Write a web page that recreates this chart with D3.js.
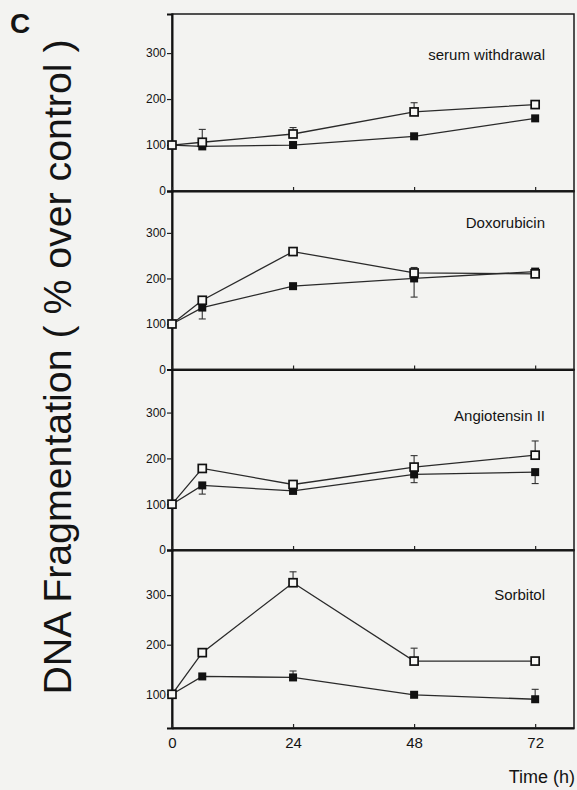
<!DOCTYPE html>
<html>
<head>
<meta charset="utf-8">
<script src="https://cdn.jsdelivr.net/npm/d3@7"></script>
<style>
  html, body { margin: 0; padding: 0; background: #f3f3f1; }
  svg { display: block; }
  text { font-family: "Liberation Sans", Arial, Helvetica, sans-serif; fill: #141414; }
</style>
</head>
<body>
<svg id="chart" width="577" height="790"></svg>
<script>
// Sampling times (h)
const times = [0, 6, 24, 48, 72];
const xTicks = [0, 24, 48, 72];
const yTicks = [0, 100, 200, 300];

// One panel per stimulus
const panelNames = ["serum withdrawal", "Doxorubicin", "Angiotensin II", "Sorbitol"];

// Open squares series (mean) and its error (drawn upward)
const openValues = [
  [100, 106, 124, 172, 188],
  [100, 152, 259, 212, 210],
  [100, 178, 143, 181, 207],
  [100, 184, 325, 167, 167]
];
const openErrors = [
  [0, 28, 14, 20, 5],
  [0, 5, 0, 12, 4],
  [0, 8, 4, 25, 31],
  [0, 0, 22, 26, 0]
];

// Filled squares series (mean) and its error (signed: + up, - down)
const filledValues = [
  [100, 97, 100, 119, 158],
  [100, 136, 183, 200, 215],
  [100, 141, 129, 165, 170],
  [100, 136, 134, 99, 90]
];
const filledErrors = [
  [0, 0, 0, 0, 0],
  [0, -25, 0, -41, 0],
  [0, -19, 0, -18, -25],
  [0, 0, 13, 0, 20]
];

// Value range shown on each panel's y axis
const yDomains = [[0, 385], [0, 392], [0, 394], [32, 391]];

const svg = d3.select("#chart");

// Layout
const left = 172, right = 574;
const edges = [14, 191, 369.5, 550, 728];

const x = d3.scaleLinear().domain([0, 79.7]).range([left, right]);

const line = (y) => d3.line().x((d, i) => x(times[i])).y(d => y(d));

panelNames.forEach((name, p) => {
  const top = edges[p], bottom = edges[p + 1];
  const y = d3.scaleLinear().domain(yDomains[p]).range([bottom, top]);
  const g = svg.append("g");

  // frame
  g.append("rect")
    .attr("x", left).attr("y", top)
    .attr("width", right - left).attr("height", bottom - top)
    .attr("fill", "none").attr("stroke", "#1a1a1a").attr("stroke-width", 1.5);

  // y axis
  const yAxis = d3.axisLeft(y)
    .tickValues(yTicks.filter(t => t >= yDomains[p][0] && t <= yDomains[p][1]))
    .tickSize(5).tickPadding(1).tickFormat(d3.format("d"));
  const ya = g.append("g").attr("transform", `translate(${left},0)`).call(yAxis);
  ya.select(".domain").attr("stroke", "#111").attr("stroke-width", 2);
  ya.selectAll(".tick line").attr("stroke", "#222").attr("stroke-width", 1.2);
  ya.selectAll(".tick text")
    .style("font-family", "'Liberation Sans', Arial, sans-serif")
    .style("font-size", "12px").attr("fill", "#111");

  // x ticks, drawn inward on each panel's bottom edge
  const isLast = p === panelNames.length - 1;
  const xAxis = d3.axisBottom(x).tickValues(xTicks).tickSizeInner(-4).tickSizeOuter(0)
    .tickPadding(9).tickFormat(isLast ? d3.format("d") : () => "");
  const xa = g.append("g").attr("transform", `translate(0,${bottom})`).call(xAxis);
  xa.select(".domain").attr("stroke", "#111").attr("stroke-width", 1.8);
  xa.selectAll(".tick line").attr("stroke", "#222").attr("stroke-width", 1.2);
  xa.selectAll(".tick text")
    .style("font-family", "'Liberation Sans', Arial, sans-serif")
    .style("font-size", "15px").attr("fill", "#111");

  // connecting lines
  g.append("path").datum(openValues[p]).attr("d", line(y))
    .attr("fill", "none").attr("stroke", "#2a2a2a").attr("stroke-width", 1.3);
  g.append("path").datum(filledValues[p]).attr("d", line(y))
    .attr("fill", "none").attr("stroke", "#2a2a2a").attr("stroke-width", 1.3);

  // error bars
  const drawErr = (vals, errs) => {
    vals.forEach((v, i) => {
      const e = errs[i];
      if (!e) return;
      const xc = x(times[i]);
      g.append("line").attr("x1", xc).attr("x2", xc)
        .attr("y1", y(v)).attr("y2", y(v + e))
        .attr("stroke", "#333").attr("stroke-width", 1.1);
      g.append("line").attr("x1", xc - 3.5).attr("x2", xc + 3.5)
        .attr("y1", y(v + e)).attr("y2", y(v + e))
        .attr("stroke", "#333").attr("stroke-width", 1.1);
    });
  };
  drawErr(openValues[p], openErrors[p]);
  drawErr(filledValues[p], filledErrors[p]);

  // markers
  g.selectAll(".filled").data(filledValues[p]).join("rect")
    .attr("x", (d, i) => x(times[i]) - 4).attr("y", d => y(d) - 4)
    .attr("width", 8).attr("height", 8).attr("fill", "#111");
  g.selectAll(".open").data(openValues[p]).join("rect")
    .attr("x", (d, i) => x(times[i]) - 4).attr("y", d => y(d) - 4)
    .attr("width", 8).attr("height", 8)
    .attr("fill", "#f8f8f6").attr("stroke", "#111").attr("stroke-width", 1.7);

  // stimulus label
  const labelOffset = [46, 37, 51, 50][p];
  g.append("text").attr("x", 545).attr("y", top + labelOffset)
    .attr("text-anchor", "end").style("font-size", "15px").text(name);
});

// panel letter
svg.append("text").attr("x", 10).attr("y", 33)
  .style("font-size", "28px").style("font-weight", "bold").text("C");

// y axis title
svg.append("text")
  .attr("transform", "translate(71,367) rotate(-90)")
  .attr("text-anchor", "middle")
  .attr("textLength", 655).attr("lengthAdjust", "spacingAndGlyphs")
  .style("font-size", "38px")
  .text("DNA Fragmentation ( % over control )");

// x axis title
svg.append("text").attr("x", 575).attr("y", 783)
  .attr("text-anchor", "end").style("font-size", "18px").text("Time (h)");
</script>
</body>
</html>
